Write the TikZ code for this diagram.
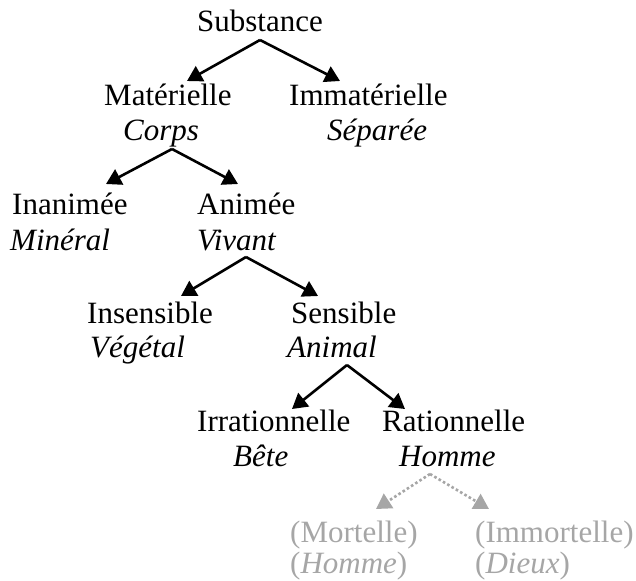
\documentclass[tikz,border=0pt]{standalone}
\usepackage{fontspec}
\setmainfont{Liberation Serif}
\usetikzlibrary{arrows.meta}
\definecolor{lgray}{RGB}{166,166,166}
\tikzset{
  lbl/.style={anchor=base west, inner sep=0pt, font=\fontsize{31}{35}\selectfont},
  ital/.style={lbl, font=\fontsize{31}{35}\selectfont\itshape},
  arr/.style={line width=2.6pt, -{Triangle[length=15pt,width=17pt]}},
  darr/.style={line width=2.6pt, lgray, dash pattern=on 2.6pt off 2.4pt, -{Triangle[length=15pt,width=17pt]}},
  faint/.style={text=lgray}
}
\begin{document}
\begin{tikzpicture}[x=1pt,y=-1pt]
\useasboundingbox (0,0) rectangle (636,580);
% nodes
\node[lbl] (sub) at (197,32) {Substance};
\node[lbl] (mat) at (104,106) {Matérielle};
\node[ital] (corps) at (123,141) {Corps};
\node[lbl] (imm) at (289,106) {Immatérielle};
\node[ital] (sep) at (327,141) {Séparée};
\node[lbl] (inan) at (12,214) {Inanimée};
\node[ital] (min) at (10,250) {Minéral};
\node[lbl] (anim) at (197,214) {Animée};
\node[ital] (viv) at (197,250) {Vivant};
\node[lbl] (insens) at (87,323) {Insensible};
\node[ital] (veg) at (90,357) {Végétal};
\node[lbl] (sens) at (291,323) {Sensible};
\node[ital] (ani) at (287,357) {Animal};
\node[lbl] (irr) at (197,431) {Irrationnelle};
\node[ital] (bete) at (233,466) {Bête};
\node[lbl] (rat) at (382,431) {Rationnelle};
\node[ital] (hom) at (399,466) {Homme};
\node[lbl,faint] (mort) at (290,542) {(Mortelle)};
\node[lbl,faint] (homb) at (290,573) {(\textit{Homme})};
\node[lbl,faint] (immo) at (475,542) {(Immortelle)};
\node[lbl,faint] (dieux) at (475,573) {(\textit{Dieux})};
% connector points
\coordinate (aSub) at (260,40);
\coordinate (tMat) at (187,81);
\coordinate (tImm) at (340,81);
\coordinate (aCorps) at (172,149);
\coordinate (tInan) at (106,184);
\coordinate (tAnim) at (238,184);
\coordinate (aViv) at (246,257);
\coordinate (tInsens) at (181,296);
\coordinate (tSens) at (318,296);
\coordinate (aAni) at (347,365);
\coordinate (tIrr) at (292,409);
\coordinate (tRat) at (405,409);
\coordinate (aHom) at (430,474);
\coordinate (tMort) at (376,509);
\coordinate (tImmo) at (489,509);
% connectors
\draw[arr] (aSub) -- (tMat);
\draw[arr] (aSub) -- (tImm);
\draw[arr] (aCorps) -- (tInan);
\draw[arr] (aCorps) -- (tAnim);
\draw[arr] (aViv) -- (tInsens);
\draw[arr] (aViv) -- (tSens);
\draw[arr] (aAni) -- (tIrr);
\draw[arr] (aAni) -- (tRat);
\draw[darr] (aHom) -- (tMort);
\draw[darr] (aHom) -- (tImmo);
\end{tikzpicture}
\end{document}
